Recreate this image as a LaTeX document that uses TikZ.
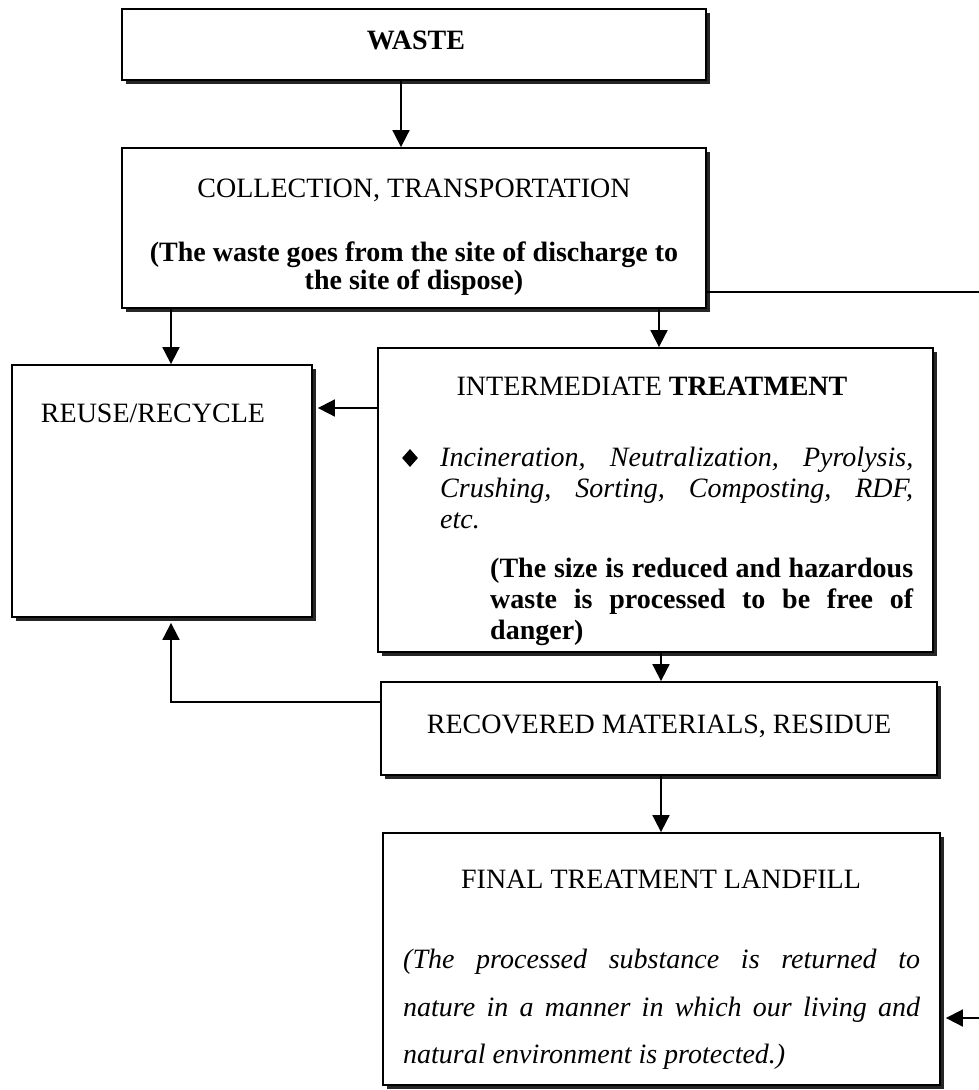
\documentclass[tikz,border=0pt]{standalone}
\usepackage{fontspec}
\setmainfont{Liberation Serif}
\usetikzlibrary{arrows.meta,shadows,shapes.geometric}
\tikzset{
  box/.style={draw=black, line width=1.8pt, fill=white, inner sep=0pt,
    drop shadow={shadow xshift=4pt, shadow yshift=-4pt, fill=black!85, opacity=1}},
  conn/.style={line width=1.8pt},
  arr/.style={conn, -{Triangle[length=17pt,width=17pt]}},
  txt/.style={inner sep=0pt, font=\fontsize{28}{32}\selectfont},
}
\begin{document}
\begin{tikzpicture}[x=1pt,y=-1pt]
\fill[white] (0,0) rectangle (979,1090);
\useasboundingbox (0,0) rectangle (979,1090);

% boxes
\node[box, minimum width=584pt, minimum height=71pt]  (waste) at (414,44.5) {};
\node[box, minimum width=584pt, minimum height=160pt] (coll)  at (414,228) {};
\node[box, minimum width=300pt, minimum height=252pt] (reuse) at (162,491) {};
\node[box, minimum width=555pt, minimum height=304pt] (inter) at (655.5,500) {};
\node[box, minimum width=556pt, minimum height=93pt]  (recov) at (659,728.5) {};
\node[box, minimum width=557pt, minimum height=252pt] (final) at (661.5,959) {};

% texts
\node[txt, anchor=base] (twaste) at (416,49) {\bfseries WASTE};
\node[txt, anchor=base] (tcoll) at (414,197) {COLLECTION, TRANSPORTATION};
\node[txt, anchor=base] (tcoll1) at (414,261) {\bfseries (The waste goes from the site of discharge to};
\node[txt, anchor=base] (tcoll2) at (414,289) {\bfseries the site of dispose)};
\node[txt, anchor=base] (treuse) at (153,422) {REUSE/RECYCLE};
\node[txt, anchor=base] (tinter) at (652,395) {INTERMEDIATE \textbf{TREATMENT}};
\node[diamond, fill=black, inner sep=0pt, minimum width=16pt, minimum height=18pt] (bul) at (410,458) {};
\node[txt, anchor=base west] (ti1) at (440,466) {\itshape\hbox to 473pt{Incineration, Neutralization, Pyrolysis,}};
\node[txt, anchor=base west] (ti2) at (440,497) {\itshape\hbox to 473pt{Crushing, Sorting, Composting, RDF,}};
\node[txt, anchor=base west] (ti3) at (440,528) {\itshape etc.};
\node[txt, anchor=base west] (tb1) at (490,577) {\bfseries\hbox to 423pt{(The size is reduced and hazardous}};
\node[txt, anchor=base west] (tb2) at (490,608) {\bfseries\hbox to 423pt{waste is processed to be free of}};
\node[txt, anchor=base west] (tb3) at (490,639) {\bfseries danger)};
\node[txt, anchor=base] (trecov) at (659,733) {RECOVERED MATERIALS, RESIDUE};
\node[txt, anchor=base] (tfinal) at (661,888) {FINAL TREATMENT LANDFILL};
\node[txt, anchor=base west] (tf1) at (403,968) {\itshape\hbox to 517pt{(The processed substance is returned to}};
\node[txt, anchor=base west] (tf2) at (403,1016) {\itshape\hbox to 517pt{nature in a manner in which our living and}};
\node[txt, anchor=base west] (tf3) at (403,1063) {\itshape natural environment is protected.)};

% helper coordinates
\coordinate (xa) at (401,0);
\coordinate (xl) at (171,0);
\coordinate (xr) at (659,0);
\coordinate (xm) at (661,0);
\coordinate (yl) at (0,408);
\coordinate (yc) at (0,702);
\coordinate (r1) at (992,292);
\coordinate (r2) at (992,1018);
\coordinate (rr) at ([xshift=5pt]reuse.east);
\coordinate (rb) at ([yshift=-5pt]reuse.south);
\coordinate (fe) at ([xshift=5pt]final.east);

% connectors
\draw[arr] (waste.south -| xa) -- (coll.north -| xa);
\draw[arr] (coll.south -| xl) -- (reuse.north -| xl);
\draw[arr] (coll.south -| xr) -- (inter.north -| xr);
\draw[arr] (inter.west |- yl) -- (rr |- yl);
\draw[arr] (inter.south -| xm) -- (recov.north -| xm);
\draw[arr] (recov.south -| xm) -- (final.north -| xm);
\draw[arr] (recov.west |- yc) -- (xl |- yc) -- (rb -| xl);
\begin{scope}
\clip (0,0) rectangle (979,1090);
\draw[arr] (coll.east |- r1) -- (r1) -- (r2) -- (fe |- r2);
\end{scope}
\end{tikzpicture}
\end{document}
